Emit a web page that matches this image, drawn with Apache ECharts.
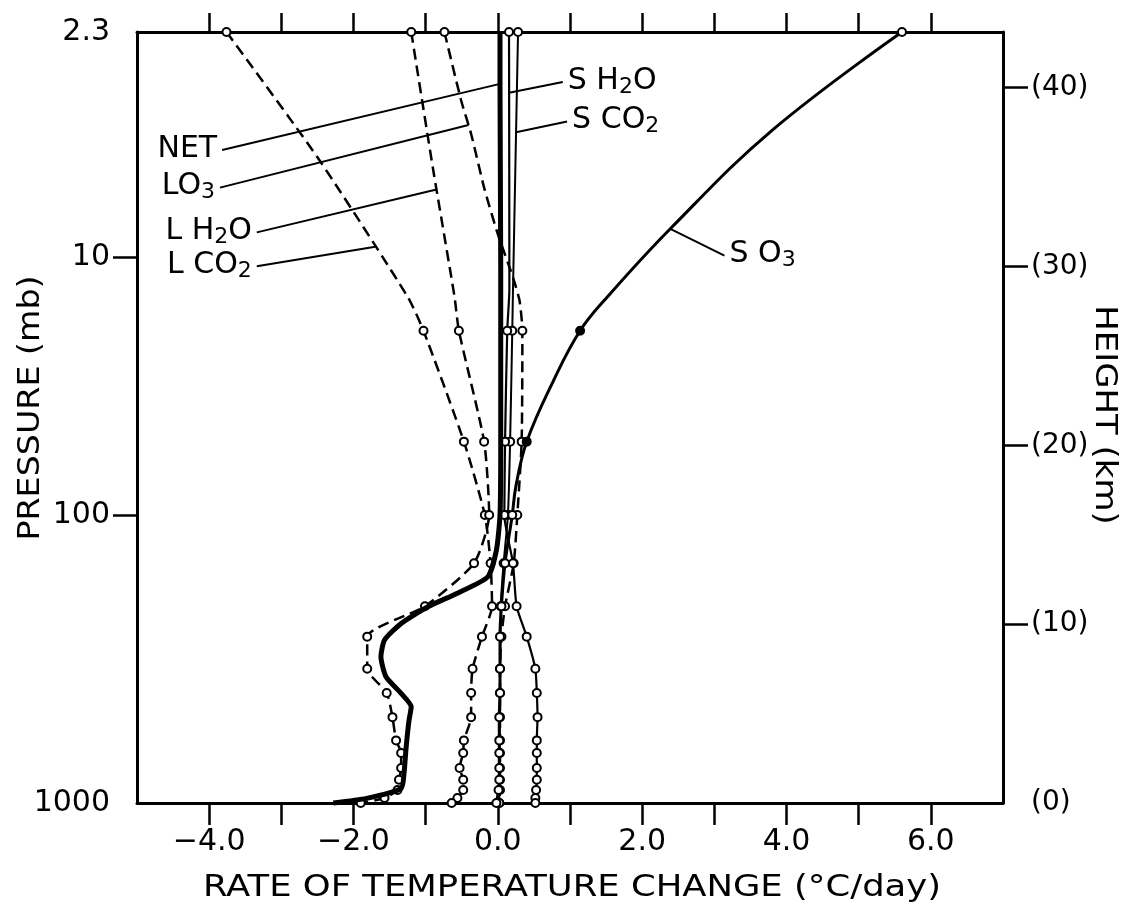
<!DOCTYPE html>
<html><head><meta charset="utf-8">
<script src="https://cdn.jsdelivr.net/npm/echarts@6/dist/echarts.min.js"></script>
<style>html,body{margin:0;padding:0;background:#fff}#c{width:1133px;height:915px}</style>
</head><body><div id="c"></div>
<script>
// ---- tick labels ----
const pressureLabels = ['1000', '100', '10', '2.3'];      // mb
const pressureHeights = [0, 16.1, 30.5, 43.1];            // km where they sit
const pressureTickHeights = [16.1, 30.5];
const heightTicks = [0, 10, 20, 30, 40];                  // km (right axis)
const rateTicks = [-4, -3, -2, -1, 0, 1, 2, 3, 4, 5, 6];  // °C/day
const rateLabels = [-4, -2, 0, 2, 4, 6];
// levels (km) at which points are marked with circles
const markedLevels = [43.1, 26.4, 20.2, 16.1, 13.4, 11.0, 9.3, 7.5, 6.15, 4.8, 3.5, 2.8, 1.96, 1.3, 0.73, 0.28, 0];

// ---- series: height (km) and rate (°C/day) ----
const netHeight = [43.1, 40.2, 30, 20, 16.1, 14.13, 12.64, 11.73, 10.97, 10.04, 9.11, 8.17, 7.06, 6.13, 5.38, 4.64, 3.15, 1.66, 0.82, 0.26, 0];
const netRate   = [0.03, 0.03, 0.04, 0.04, 0.03, -0.02, -0.14, -0.56, -0.97, -1.34, -1.57, -1.62, -1.55, -1.34, -1.2, -1.23, -1.27, -1.3, -1.34, -1.82, -2.28];

const lh2oHeight = [43.1, 35.5, 28.3, 26.4, 20.2, 16.1, 13.4, 11.0, 9.3, 7.5, 6.15, 4.8, 3.5, 2.8, 1.96, 1.3, 0.73, 0.28, 0];
const lh2oRate   = [-1.2, -0.9, -0.6, -0.54, -0.19, -0.12, -0.33, -1.01, -1.81, -1.81, -1.54, -1.46, -1.41, -1.34, -1.34, -1.37, -1.39, -1.57, -1.9];

const lco2Height = [43.1, 36.1, 28.3, 26.4, 20.2, 16.1, 13.4, 11.0, 9.3, 7.5, 6.15, 4.8, 3.5, 2.8, 1.96, 1.3, 0.73, 0.28, 0];
const lco2Rate   = [-3.76, -2.5, -1.25, -1.03, -0.47, -0.18, -0.1, -0.08, -0.22, -0.35, -0.37, -0.37, -0.47, -0.48, -0.53, -0.48, -0.48, -0.56, -0.64];

const lo3Height = [43.1, 39.3, 37.4, 34.4, 31.8, 29.5, 28.1, 26.4, 20.2, 16.1, 13.4, 11.0, 9.3, 7.5, 6.15, 4.8, 3.5, 2.8, 1.96, 1.3, 0.73, 0];
const lo3Rate   = [-0.74, -0.51, -0.37, -0.19, 0.0, 0.2, 0.3, 0.34, 0.33, 0.27, 0.22, 0.1, 0.05, 0.03, 0.03, 0.03, 0.03, 0.03, 0.03, 0.03, 0.03, 0.02];

const sh2oHeight = [43.1, 28.7, 26.4, 20.2, 16.1, 13.4, 11.0, 9.3, 7.5, 6.15, 4.8, 3.5, 2.8, 1.96, 1.3, 0.73, 0.28, 0];
const sh2oRate   = [0.155, 0.16, 0.13, 0.1, 0.09, 0.21, 0.26, 0.4, 0.52, 0.54, 0.55, 0.54, 0.54, 0.54, 0.54, 0.53, 0.52, 0.52];

const sco2Height = [43.1, 28.7, 26.4, 20.2, 16.1, 13.4, 11.0, 0];
const sco2Rate   = [0.28, 0.21, 0.2, 0.17, 0.14, 0.08, 0.04, 0.02];

const so3Height = [43.1, 37.6, 32.1, 28.3, 26.4, 23.6, 20.2, 17.7, 16.1, 13.4, 11.0, 9.3, 7.5, 6.15, 4.8, 3.5, 2.8, 1.96, 1.3, 0.73, 0];
const so3Rate   = [5.6, 3.8, 2.39, 1.52, 1.14, 0.77, 0.4, 0.25, 0.2, 0.1, 0.05, 0.03, 0.03, 0.03, 0.02, 0.02, 0.02, 0.02, 0.02, 0.01, -0.02];

// ---- helpers ----
const FONT = 'DejaVu Sans';
const INK = '#000';

function points(h, r, withMarkers, filled) {
  return h.map((hh, i) => {
    const item = { value: [r[i], hh] };
    const marked = withMarkers && markedLevels.includes(hh);
    if (!marked) item.symbolSize = 0;
    else if (filled && filled.includes(hh)) item.itemStyle = { color: INK, borderColor: INK };
    return item;
  });
}
function curve(name, h, r, width, dashed, withMarkers, filled, z, smooth) {
  return {
    name, type: 'line', data: points(h, r, withMarkers, filled),
    smooth: smooth || 0.2,
    symbol: 'circle', symbolSize: 8, showSymbol: true, showAllSymbol: true,
    itemStyle: { color: '#fff', borderColor: INK, borderWidth: 2 },
    lineStyle: { color: INK, width, type: dashed ? [11, 6] : 'solid' },
    silent: true, animation: false, z: z || 2, clip: false
  };
}
function rateAt(h, r, y) {
  for (let i = 0; i < h.length - 1; i++) {
    if (y <= h[i] && y >= h[i + 1]) {
      const t = (h[i] - y) / (h[i] - h[i + 1]);
      return r[i] + t * (r[i + 1] - r[i]);
    }
  }
  return r[r.length - 1];
}

// curve labels: text, anchor of leader line (data units), height where leader meets curve
const notes = [
  { t: '{m|NET}',           h: netHeight,  r: netRate,  at: [-3.82, 36.5], y: 40.2, side: 'left' },
  { t: '{m|LO}{s|3}',       h: lo3Height,  r: lo3Rate,  at: [-3.85, 34.4], y: 37.9, side: 'left' },
  { t: '{m|L H}{s|2}{m|O}', h: lh2oHeight, r: lh2oRate, at: [-3.34, 31.9], y: 34.3, side: 'left' },
  { t: '{m|L CO}{s|2}',     h: lco2Height, r: lco2Rate, at: [-3.34, 30.0], y: 31.1, side: 'left' },
  { t: '{m|S H}{s|2}{m|O}', h: sh2oHeight, r: sh2oRate, at: [0.90, 40.3],  y: 39.7, side: 'right' },
  { t: '{m|S CO}{s|2}',     h: sco2Height, r: sco2Rate, at: [0.96, 38.1],  y: 37.5, side: 'right' },
  { t: '{m|S O}{s|3}',      h: so3Height,  r: so3Rate,  at: [3.14, 30.6],  y: 32.1, side: 'right' }
];

const rich = {
  m: { fontSize: 30, fontFamily: FONT, color: INK, lineHeight: 32, verticalAlign: 'top' },
  s: { fontSize: 22, fontFamily: FONT, color: INK, lineHeight: 22, padding: [14, 0, 0, 0], verticalAlign: 'bottom' }
};

const series = [
  curve('LCO2', lco2Height, lco2Rate, 2.5, true, true),
  curve('LH2O', lh2oHeight, lh2oRate, 2.5, true, true),
  curve('LO3', lo3Height, lo3Rate, 2.5, true, true),
  curve('SCO2', sco2Height, sco2Rate, 2, false, true),
  curve('SH2O', sh2oHeight, sh2oRate, 2.2, false, true),
  curve('SO3', so3Height, so3Rate, 3, false, true, [26.4, 20.2], 3, 0.4),
  curve('NET', netHeight, netRate, 5, false, false, null, 4)
];
notes.forEach(n => {
  series.push({
    type: 'line', silent: true, animation: false, symbol: 'none', z: 5,
    lineStyle: { color: INK, width: 2 },
    data: [[n.at[0], n.at[1]], [rateAt(n.h, n.r, n.y), n.y]]
  });
});
series.push({
  type: 'scatter', silent: true, animation: false, symbolSize: 0, z: 6,
  data: notes.map(n => ({
    value: n.at,
    label: { show: true, position: n.side, distance: 5, formatter: n.t, rich, color: INK, opacity: 1 }
  }))
});

const axisLine = { show: true, onZero: false, lineStyle: { color: INK, width: 3 } };
const tickStyle = { color: INK, width: 2.5 };
const fmtRate = v => (v < 0 ? '\u2212' : '') + Math.abs(v).toFixed(1);

const chart = echarts.init(document.getElementById('c'), null, { renderer: 'canvas' });
chart.setOption({
  backgroundColor: '#fff',
  animation: false,
  grid: { left: 137, top: 32, width: 866, height: 771, containLabel: false },
  xAxis: [
    { type: 'value', min: -5, max: 7, interval: 1, position: 'bottom',
      axisLine, splitLine: { show: false },
      axisTick: { show: true, length: 22, lineStyle: tickStyle, customValues: rateTicks },
      axisLabel: { customValues: rateLabels, formatter: fmtRate, margin: 24,
                   fontSize: 30, fontFamily: FONT, color: INK } },
    { type: 'value', min: -5, max: 7, interval: 1, position: 'top',
      axisLine, splitLine: { show: false },
      axisTick: { show: true, length: 19, lineStyle: tickStyle, customValues: rateTicks },
      axisLabel: { show: false } }
  ],
  yAxis: [
    { type: 'value', min: 0, max: 43.1, position: 'left',
      axisLine, splitLine: { show: false },
      axisTick: { show: true, length: 24, lineStyle: tickStyle, customValues: pressureTickHeights },
      axisLabel: { customValues: pressureHeights, margin: 27, fontSize: 30, fontFamily: FONT, color: INK,
        formatter: v => { const i = pressureHeights.findIndex(p => Math.abs(p - v) < 0.01); return i >= 0 ? pressureLabels[i] : ''; } } },
    { type: 'value', min: 0, max: 43.1, position: 'right',
      axisLine, splitLine: { show: false },
      axisTick: { show: true, length: 25, lineStyle: tickStyle, customValues: heightTicks.filter(v => v > 0) },
      axisLabel: { customValues: heightTicks, margin: 28, fontSize: 28, fontFamily: FONT, color: INK,
        formatter: v => '(' + v + ')' } }
  ],
  series,
  graphic: [
    { type: 'text', x: 572, y: 888, scaleX: 1.18, silent: true,
      style: { text: 'RATE OF TEMPERATURE CHANGE (°C/day)', fontSize: 30, fontFamily: FONT, fill: INK, align: 'center', verticalAlign: 'middle' } },
    { type: 'text', x: 31, y: 408, rotation: Math.PI / 2, scaleX: 1.11, silent: true,
      style: { text: 'PRESSURE (mb)', fontSize: 30, fontFamily: FONT, fill: INK, align: 'center', verticalAlign: 'middle' } },
    { type: 'text', x: 1104, y: 415, rotation: -Math.PI / 2, scaleX: 1.13, silent: true,
      style: { text: 'HEIGHT (km)', fontSize: 30, fontFamily: FONT, fill: INK, align: 'center', verticalAlign: 'middle' } }
  ]
});
</script></body></html>
